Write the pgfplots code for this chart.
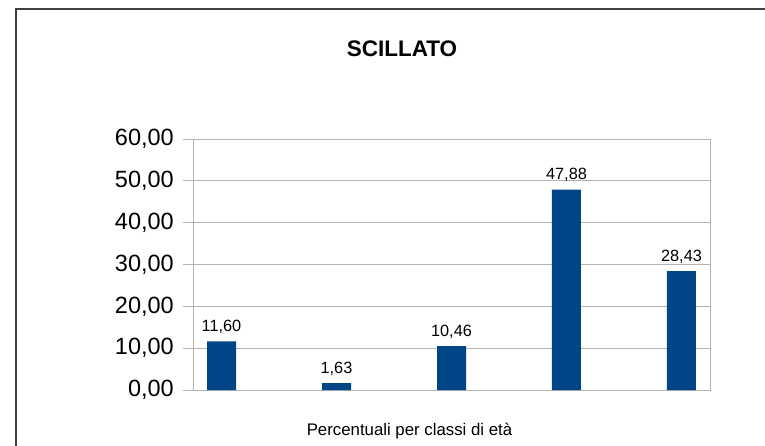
\documentclass[border=0pt]{standalone}
\usepackage{pgfplots}
\pgfplotsset{compat=1.18}
\usepackage{fontspec}
\setmainfont{Liberation Sans}
\definecolor{barblue}{HTML}{004586}
\definecolor{gridgray}{HTML}{B3B3B3}
\begin{document}
\begin{tikzpicture}
\useasboundingbox (0bp,0bp) rectangle (765bp,-446bp);
\draw[line width=1.5bp, color=black!75] (16bp,-447bp) -- (16bp,-9bp) -- (767bp,-9bp);
\node[anchor=base, font=\fontsize{22.5bp}{26bp}\selectfont\bfseries] at (402bp,-56.7bp) {SCILLATO};
\node[anchor=base, font=\fontsize{16.8bp}{20bp}\selectfont] at (409.5bp,-435bp) {Percentuali per classi di età};
\begin{axis}[
  at={(193bp,-390bp)}, anchor=south west,
  scale only axis, width=517bp, height=251bp,
  xmin=-0.248, xmax=4.248, ymin=0, ymax=60,
  ytick={0,10,20,30,40,50,60},
  xtick=\empty, ytick pos=left,
  ymajorgrids,
  grid style={gridgray, line width=1bp},
  axis line style={gridgray, line width=1bp},
  tick style={gridgray, line width=1bp},
  tick align=outside, major tick length=10bp,
  /pgf/number format/.cd, fixed, fixed zerofill, precision=2, use comma, assume math mode=true,
  /pgfplots/.cd,
  yticklabel style={font=\fontsize{23.5bp}{27bp}\selectfont, inner sep=0pt, xshift=-9bp},
  ybar, bar width=29bp,
  nodes near coords,
  every node near coord/.append style={font=\fontsize{16.3bp}{19bp}\selectfont, anchor=base, inner sep=0pt, yshift=10bp, black},
]
\addplot[fill=barblue, draw=none] coordinates {(0,11.60) (1,1.63) (2,10.46) (3,47.88) (4,28.43)};
\end{axis}
\end{tikzpicture}
\end{document}
